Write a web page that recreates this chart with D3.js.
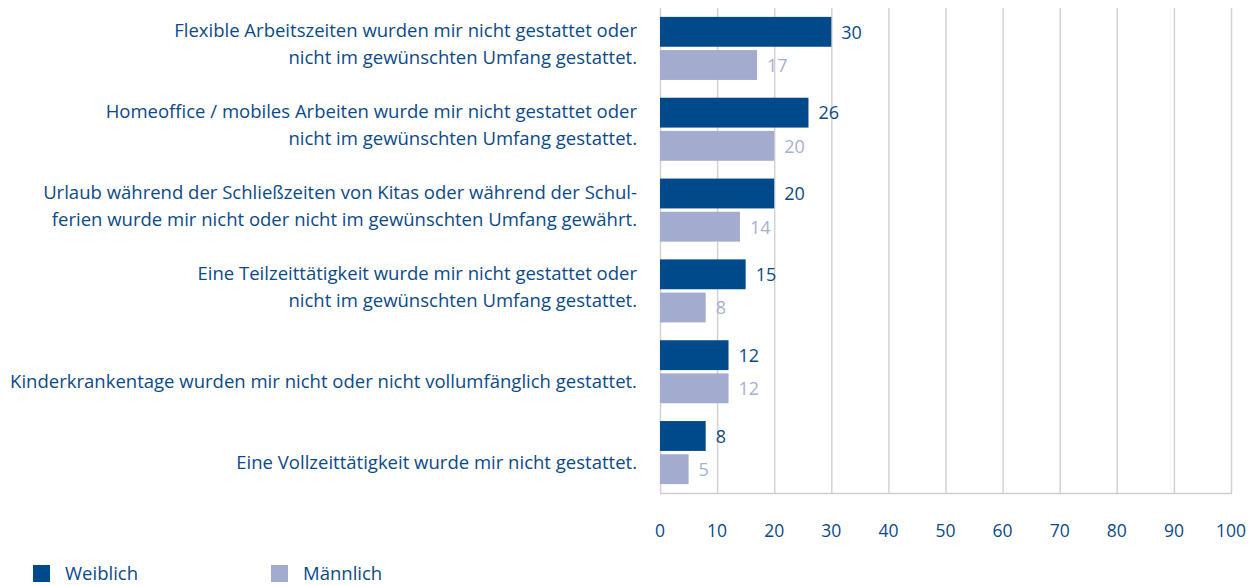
<!DOCTYPE html>
<html>
<head>
<meta charset="utf-8">
<script src="https://cdn.jsdelivr.net/npm/d3@7"></script>
<style>
  body { margin: 0; background: #fff; }
  text { font-family: "Open Sans", "Noto Sans", sans-serif; }
</style>
</head>
<body>
<div id="chart"></div>
<script>
const categories = [
  ['Flexible Arbeitszeiten wurden mir nicht gestattet oder', 'nicht im gewünschten Umfang gestattet.'],
  ['Homeoffice / mobiles Arbeiten wurde mir nicht gestattet oder', 'nicht im gewünschten Umfang gestattet.'],
  ['Urlaub während der Schließzeiten von Kitas oder während der Schul-', 'ferien wurde mir nicht oder nicht im gewünschten Umfang gewährt.'],
  ['Eine Teilzeittätigkeit wurde mir nicht gestattet oder', 'nicht im gewünschten Umfang gestattet.'],
  ['Kinderkrankentage wurden mir nicht oder nicht vollumfänglich gestattet.'],
  ['Eine Vollzeittätigkeit wurde mir nicht gestattet.']
];
const series = ['Weiblich', 'Männlich'];
const weiblich = [30, 26, 20, 15, 12, 8];
const maennlich = [17, 20, 14, 8, 12, 5];
const xTicks = [0, 10, 20, 30, 40, 50, 60, 70, 80, 90, 100];

const width = 1250, height = 586;
const darkBlue = '#004a8b';
const lightBlue = '#a3abcf';
const textBlue = '#0b4a8a';
const colors = { 'Weiblich': darkBlue, 'Männlich': lightBlue };
const labelColors = { 'Weiblich': textBlue, 'Männlich': '#a7afd2' };

const svg = d3.select('#chart').append('svg')
  .attr('width', width).attr('height', height);

// pick a label size so the first label line is about as wide as in the original (463px)
const probe = svg.append('text').attr('font-size', '100px').text(categories[0][0]);
const labelSize = Math.min(19, 100 * 463 / probe.node().getComputedTextLength());
probe.remove();

const x = d3.scaleLinear().domain([0, 100]).range([660, 1231]);
const y = d3.scaleBand()
  .domain(d3.range(categories.length))
  .range([8, 493])
  .paddingInner(0.22)
  .paddingOuter(0.11);
const ySub = d3.scaleBand()
  .domain(series)
  .range([0, y.bandwidth()])
  .paddingInner(0.1);

// grid
svg.append('g').selectAll('line')
  .data(xTicks)
  .join('line')
  .attr('x1', d => x(d) + 0.5).attr('x2', d => x(d) + 0.5)
  .attr('y1', 8).attr('y2', 493)
  .attr('stroke', '#d2d2d2')
  .attr('stroke-width', 1.5);

svg.append('line')
  .attr('x1', x(0)).attr('x2', x(100) + 1)
  .attr('y1', 493.5).attr('y2', 493.5)
  .attr('stroke', '#cfcfcf')
  .attr('stroke-width', 1.5);

// tick labels
svg.append('g').selectAll('text')
  .data(xTicks)
  .join('text')
  .attr('x', d => x(d))
  .attr('y', 537)
  .attr('text-anchor', 'middle')
  .attr('font-size', '17.5px')
  .attr('fill', textBlue)
  .text(d => d);

const rows = categories.map((c, i) => ({ i, label: c, values: { 'Weiblich': weiblich[i], 'Männlich': maennlich[i] } }));

const groups = svg.append('g').selectAll('g')
  .data(rows)
  .join('g')
  .attr('transform', d => `translate(0,${y(d.i)})`);

groups.selectAll('rect')
  .data(d => series.map(s => ({ s, v: d.values[s] })))
  .join('rect')
  .attr('x', x(0))
  .attr('y', d => ySub(d.s))
  .attr('width', d => x(d.v) - x(0))
  .attr('height', ySub.bandwidth())
  .attr('fill', d => colors[d.s]);

groups.selectAll('text.value')
  .data(d => series.map(s => ({ s, v: d.values[s] })))
  .join('text')
  .attr('class', 'value')
  .attr('x', d => x(d.v) + 10)
  .attr('y', d => ySub(d.s) + ySub.bandwidth() / 2)
  .attr('dy', '0.38em')
  .attr('font-size', '18px')
  .attr('fill', d => labelColors[d.s])
  .text(d => d.v);

// category labels, last line sits at band centre + 17
const lineHeight = 27;
svg.append('g').selectAll('text')
  .data(rows)
  .join('text')
  .attr('text-anchor', 'end')
  .attr('font-size', `${labelSize}px`)
  .attr('fill', textBlue)
  .each(function(d) {
    const base = y(d.i) + y.bandwidth() / 2 + 16;
    const n = d.label.length;
    d3.select(this).selectAll('tspan')
      .data(d.label)
      .join('tspan')
      .attr('x', 637)
      .attr('y', (l, k) => base - (n - 1 - k) * lineHeight)
      .text(l => l);
  });

// legend
const legendX = [33, 271];
const legend = svg.append('g').selectAll('g')
  .data(series)
  .join('g')
  .attr('transform', (d, i) => `translate(${legendX[i]},565)`);
legend.append('rect')
  .attr('width', 17).attr('height', 17)
  .attr('fill', d => colors[d]);
legend.append('text')
  .attr('x', 32).attr('y', 15)
  .attr('font-size', `${labelSize}px`)
  .attr('fill', textBlue)
  .text(d => d);
</script>
</body>
</html>
